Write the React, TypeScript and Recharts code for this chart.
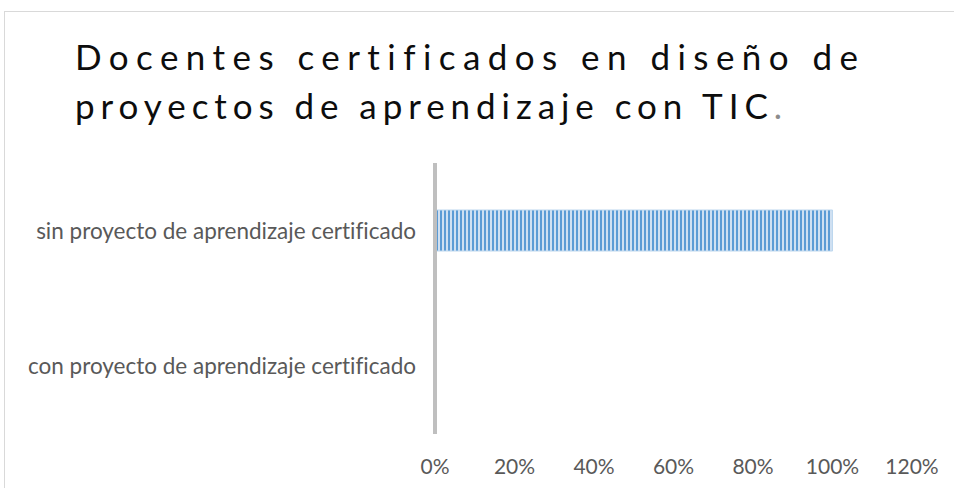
import { Bar, BarChart, XAxis, YAxis } from "recharts";

const categories = [
  "sin proyecto de aprendizaje certificado",
  "con proyecto de aprendizaje certificado",
];
const shares = [1, 0];
const ticks = [0, 0.2, 0.4, 0.6, 0.8, 1, 1.2];
const titleLines = ["Docentes certificados en diseño de", "proyectos de aprendizaje con TIC"];

const data = categories.map((name, i) => ({ name, value: shares[i] }));

const labelFont = "Lato, 'Open Sans', sans-serif";

export default function App() {
  return (
    <div style={{ position: "absolute", left: 0, top: 0, width: 954, height: 488, background: "#fff", overflow: "hidden" }}>
      <style>{`text { font-variant-ligatures: none; }`}</style>
      <div
        style={{
          position: "absolute",
          left: 4,
          top: 11,
          width: 960,
          height: 490,
          borderTop: "1px solid #d9d9d9",
          borderLeft: "1px solid #d9d9d9",
        }}
      />
      <svg width={954} height={140} style={{ position: "absolute", left: 0, top: 0 }}>
        <text
          x={75}
          y={70}
          fontFamily={labelFont}
          fontSize={35}
          fill="#0d0d0d"
          textLength={783}
          lengthAdjust="spacing"
        >
          {titleLines[0]}
        </text>
        <text
          x={75}
          y={119}
          fontFamily={labelFont}
          fontSize={35}
          fill="#0d0d0d"
          textLength={707}
          lengthAdjust="spacing"
        >
          {titleLines[1]}
          <tspan fill="#8c8c8c">.</tspan>
        </text>
      </svg>
      <div style={{ position: "absolute", left: 0, top: 0 }}>
        <BarChart
          width={954}
          height={488}
          data={data}
          layout="vertical"
          margin={{ top: 163, right: 42, bottom: 0, left: 0 }}
        >
          <defs>
            <pattern id="stripes" patternUnits="userSpaceOnUse" width={4} height={8}>
              <rect x={0} y={0} width={4} height={8} fill="#cfe0f2" />
              <rect x={0} y={0} width={2} height={8} fill="#5b9bd5" />
            </pattern>
          </defs>
          <XAxis
            type="number"
            domain={[0, 1.2]}
            ticks={ticks}
            tickFormatter={(v) => `${Math.round(v * 100)}%`}
            axisLine={false}
            tickLine={false}
            tickSize={0}
            tickMargin={25}
            height={54}
            interval={0}
            tick={{ fontSize: 21, fill: "#595959", fontFamily: labelFont }}
          />
          <YAxis
            type="category"
            dataKey="name"
            width={435}
            axisLine={{ stroke: "#bfbfbf", strokeWidth: 4 }}
            tickLine={false}
            tickSize={0}
            tickMargin={19}
            tick={{ fontSize: 22.5, fill: "#595959", fontFamily: labelFont }}
          />
          <Bar
            dataKey="value"
            barSize={41}
            fill="url(#stripes)"
            stroke="#bdd7ee"
            strokeWidth={1}
            isAnimationActive={false}
          />
        </BarChart>
      </div>
    </div>
  );
}
